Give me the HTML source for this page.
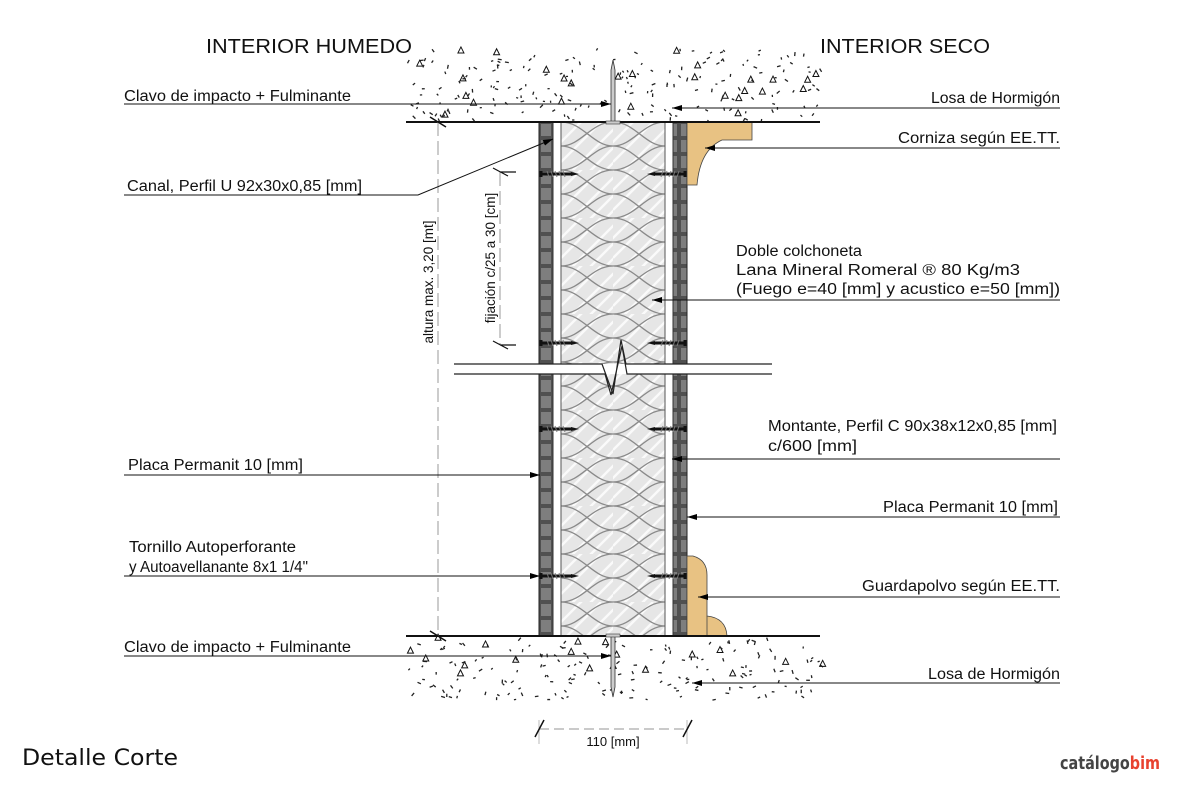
<!DOCTYPE html>
<html><head><meta charset="utf-8"><style>
html,body{margin:0;padding:0;background:#fff;}
svg{display:block;}
text{font-family:"Liberation Sans",Arial,sans-serif;fill:#111;}
</style></head><body>
<svg id="s" width="1181" height="787" viewBox="0 0 1181 787" xmlns="http://www.w3.org/2000/svg">
<defs>
<pattern id="ins" x="561" y="122" width="52" height="48" patternUnits="userSpaceOnUse">
<rect width="52" height="48" fill="#e6e6e6"/>
<path d="M-10,10 L10,-10 M-5,25 L25,-5 M0,40 L40,0 M5,55 L55,5 M20,58 L60,18 M35,58 L65,28" stroke="#fafafa" stroke-width="2.5"/>
<path d="M0,0 C22,0 32,24 52,24 C32,24 22,48 0,48 M52,0 C30,0 20,24 0,24 C20,24 30,48 52,48" fill="none" stroke="#8a8a8a" stroke-width="1.3"/>
</pattern>
<pattern id="brd" x="539" y="122" width="14" height="16" patternUnits="userSpaceOnUse">
<rect width="14" height="16" fill="#505050"/>
<rect x="2" y="2" width="10" height="12" fill="#7e7e7e"/>
</pattern>
<marker id="ar" viewBox="0 0 10 6" refX="10" refY="3" markerWidth="10" markerHeight="6" markerUnits="userSpaceOnUse" orient="auto">
<path d="M0,0 L10,3 L0,6 Z" fill="#000"/>
</marker>
<g id="scrL"><path d="M0,-3 L0,3 M1,0 L30,0" stroke="#111" stroke-width="3"/><path d="M6,-3 L8,3 M10,-3 L12,3 M14,-3 L16,3 M18,-3 L20,3 M22,-3 L24,3" stroke="#777" stroke-width="1"/><path d="M30,-2 L38,0 L30,2Z" fill="#111"/></g>
</defs>
<g id="conc"></g>
<!-- wall -->
<rect x="539" y="122" width="14" height="514" fill="url(#brd)" stroke="#222" stroke-width="1"/>
<rect x="673" y="122" width="14" height="514" fill="url(#brd)" stroke="#222" stroke-width="1"/>
<rect x="553" y="122" width="8" height="514" fill="#fff" stroke="#333" stroke-width="1"/>
<rect x="665" y="122" width="8" height="514" fill="#fff" stroke="#333" stroke-width="1"/>
<rect x="561" y="122" width="104" height="514" fill="url(#ins)" stroke="#555" stroke-width="1"/>
<!-- cornice -->
<path d="M687,122 L752,122 L752,140 L722,140 Q700,150 697,185 L687,185 Z" fill="#e8c283" stroke="#444" stroke-width="0.8"/>
<!-- guardapolvo -->
<path d="M687,556 L693,556 Q707,560 707,575 L707,616 Q726,618 727,636 L687,636 Z" fill="#e8c283" stroke="#444" stroke-width="0.8"/>
<path d="M707,616 L707,636" stroke="#444" stroke-width="0.8"/>
<!-- break -->
<rect x="454" y="364" width="318" height="10" fill="#fff"/>
<path d="M454,364 L602,364 L613,394 L621,340 L626,364 L772,364 M454,374 L605,374 L611,395 L622,346 L627,374 L772,374" fill="none" stroke="#222" stroke-width="1.2"/>
<!-- slab lines -->
<path d="M406,122 L820,122 M406,636 L820,636" stroke="#111" stroke-width="2"/>
<!-- nails -->
<path d="M613,60 L611,70 L611,122 L615,122 L615,70 Z" fill="#ccc" stroke="#333" stroke-width="0.8"/>
<rect x="606" y="121" width="14" height="3" fill="#ccc" stroke="#333" stroke-width="0.6"/>
<path d="M613,697 L611,687 L611,636 L615,636 L615,687 Z" fill="#ccc" stroke="#333" stroke-width="0.8"/>
<rect x="606" y="634" width="14" height="3" fill="#ccc" stroke="#333" stroke-width="0.6"/>
<!-- screws -->
<g>
<use href="#scrL" x="541" y="174"/><use href="#scrL" x="541" y="343"/><use href="#scrL" x="541" y="429"/><use href="#scrL" x="541" y="576"/>
<use href="#scrL" transform="translate(685,174) scale(-1,1)"/><use href="#scrL" transform="translate(685,343) scale(-1,1)"/><use href="#scrL" transform="translate(685,429) scale(-1,1)"/><use href="#scrL" transform="translate(685,576) scale(-1,1)"/>
</g>
<!-- dimensions -->
<path d="M438,122 L438,636" stroke="#aaa" stroke-width="1.2" stroke-dasharray="14,5"/>
<path d="M430,117 L446,127 M430,631 L446,641" stroke="#111" stroke-width="1.5"/>
<path d="M500,172 L500,345" stroke="#aaa" stroke-width="1.2" stroke-dasharray="14,5"/>
<path d="M493,168 L508,176 M493,341 L508,349 M500,172 L516,172 M500,345 L516,345" stroke="#111" stroke-width="1.2"/>
<text transform="translate(433,282) rotate(-90)" font-size="13.5" text-anchor="middle">altura max. 3,20 [mt]</text>
<text transform="translate(495,258) rotate(-90)" font-size="13.5" text-anchor="middle">fijación c/25 a 30 [cm]</text>
<path d="M539,729 L687,729" stroke="#aaa" stroke-width="1.2" stroke-dasharray="10,5"/>
<path d="M539,720 L539,744 M687,720 L687,744" stroke="#bbb" stroke-width="1"/>
<path d="M535,737 L544,720 M683,737 L692,720" stroke="#111" stroke-width="1.5"/>
<text x="613" y="746" font-size="13" text-anchor="middle">110 [mm]</text>
<!-- leaders -->
<g stroke="#111" stroke-width="1" fill="none" marker-end="url(#ar)">
<path d="M124,104 L611,104"/>
<path d="M1060,108 L672,108"/>
<path d="M1060,148 L705,148"/>
<path d="M124,195 L418,195 L553,139"/>
<path d="M1060,300 L652,300"/>
<path d="M1060,459 L672,459"/>
<path d="M124,475 L540,475"/>
<path d="M1060,517 L687,517"/>
<path d="M124,576 L540,576"/>
<path d="M1060,597 L698,597"/>
<path d="M124,656 L611,656"/>
<path d="M1060,683 L692,683"/>
</g>
<!-- labels -->
<text x="206" y="53" font-size="20" textLength="206" lengthAdjust="spacingAndGlyphs">INTERIOR HUMEDO</text>
<text x="820" y="53" font-size="20" textLength="170" lengthAdjust="spacingAndGlyphs">INTERIOR SECO</text>
<g font-size="15.5">
<text x="124" y="101" textLength="227" lengthAdjust="spacingAndGlyphs">Clavo de impacto + Fulminante</text>
<text x="931" y="103" textLength="129" lengthAdjust="spacingAndGlyphs">Losa de Hormigón</text>
<text x="898" y="143" textLength="162" lengthAdjust="spacingAndGlyphs">Corniza según EE.TT.</text>
<text x="127" y="191" textLength="235" lengthAdjust="spacingAndGlyphs">Canal, Perfil U 92x30x0,85 [mm]</text>
<text x="736" y="256" textLength="126" lengthAdjust="spacingAndGlyphs">Doble colchoneta</text>
<text x="736" y="275" textLength="284" lengthAdjust="spacingAndGlyphs">Lana Mineral Romeral ® 80 Kg/m3</text>
<text x="736" y="294" textLength="324" lengthAdjust="spacingAndGlyphs">(Fuego e=40 [mm] y acustico e=50 [mm])</text>
<text x="768" y="431" textLength="289" lengthAdjust="spacingAndGlyphs">Montante, Perfil C 90x38x12x0,85 [mm]</text>
<text x="768" y="451" textLength="89" lengthAdjust="spacingAndGlyphs">c/600 [mm]</text>
<text x="128" y="470" textLength="175" lengthAdjust="spacingAndGlyphs">Placa Permanit 10 [mm]</text>
<text x="883" y="512" textLength="175" lengthAdjust="spacingAndGlyphs">Placa Permanit 10 [mm]</text>
<text x="129" y="552" textLength="167" lengthAdjust="spacingAndGlyphs">Tornillo Autoperforante</text>
<text x="129" y="572" textLength="179" lengthAdjust="spacingAndGlyphs">y Autoavellanante 8x1 1/4"</text>
<text x="862" y="591" textLength="198" lengthAdjust="spacingAndGlyphs">Guardapolvo según EE.TT.</text>
<text x="124" y="652" textLength="227" lengthAdjust="spacingAndGlyphs">Clavo de impacto + Fulminante</text>
<text x="928" y="679" textLength="132" lengthAdjust="spacingAndGlyphs">Losa de Hormigón</text>
</g>
<text x="22" y="765" font-size="22" style="font-family:'DejaVu Sans',sans-serif" textLength="156" lengthAdjust="spacingAndGlyphs">Detalle Corte</text>
<text x="1060" y="769" font-size="18" font-weight="bold" textLength="100" lengthAdjust="spacingAndGlyphs" style="font-family:'DejaVu Sans',sans-serif"><tspan fill="#444">catálogo</tspan><tspan fill="#e8422f">bim</tspan></text>
</svg>
<script>
(function(){
var g=document.getElementById('conc'),ns='http://www.w3.org/2000/svg',k=0;
function r(){k++;var x=Math.sin(k*12.9898+78.233)*43758.5453;return x-Math.floor(x);}
function area(x0,x1,y0,y1,n){
for(var i=0;i<n;i++){var x=x0+r()*(x1-x0),y=y0+r()*(y1-y0);
var e=document.createElementNS(ns,'path');
if(r()<0.12){e.setAttribute('d','M'+x+','+y+' l3,-6 l3,6 z');e.setAttribute('fill','none');e.setAttribute('stroke','#111');e.setAttribute('stroke-width','1');}
else{var a=r()*6.28,l=2+r()*2;e.setAttribute('d','M'+x+','+y+' l'+(Math.cos(a)*l)+','+(Math.sin(a)*l));e.setAttribute('stroke','#222');e.setAttribute('stroke-width','1.3');}
g.appendChild(e);}}
area(405,820,48,120,220);
area(405,820,640,700,190);
})();
</script>
</body></html>
